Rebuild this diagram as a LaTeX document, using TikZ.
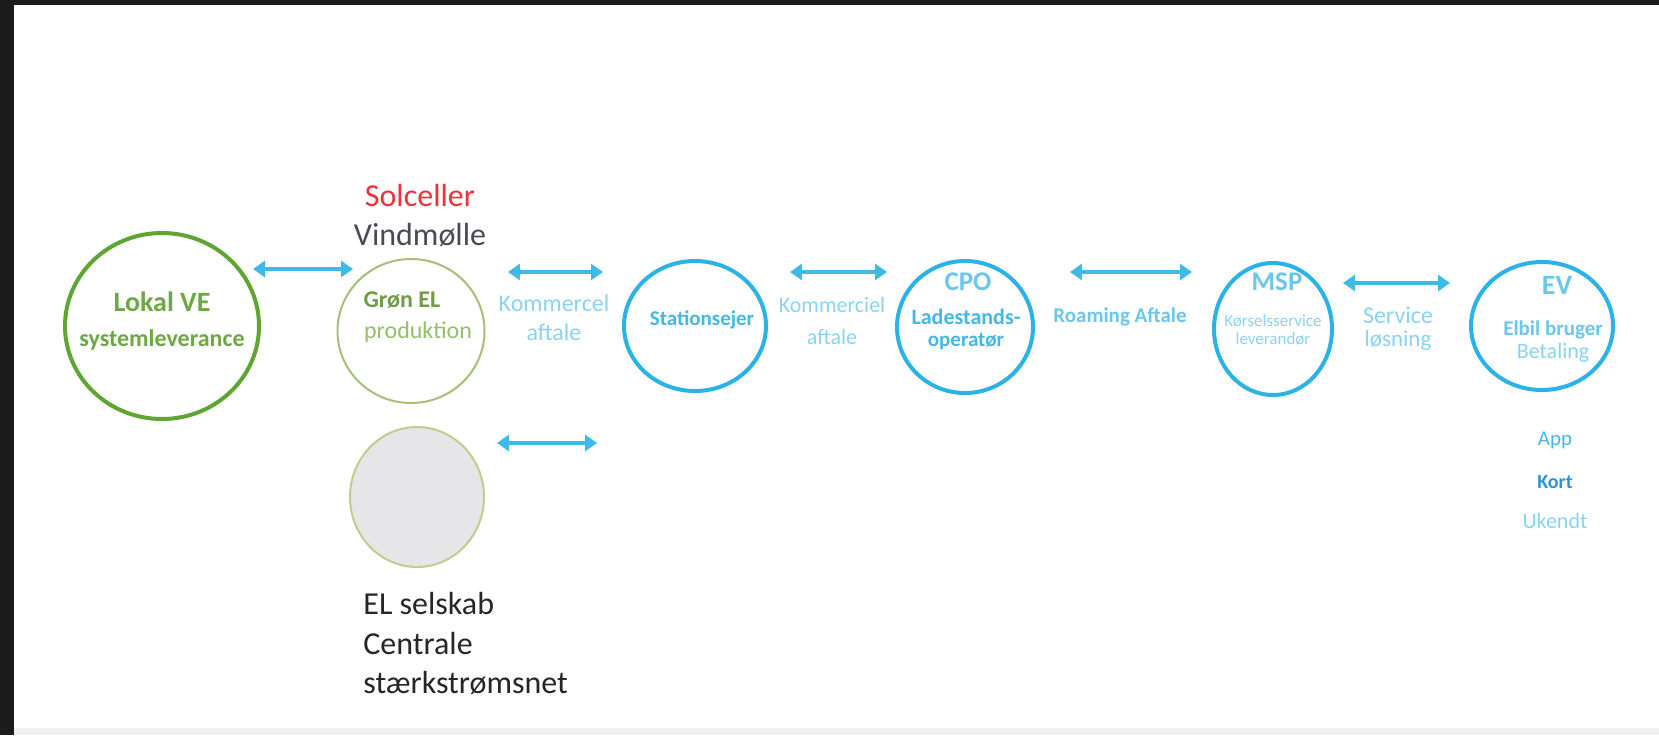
\documentclass[tikz,border=0pt]{standalone}
\usepackage{fontspec}
\setmainfont{Carlito}
\usetikzlibrary{arrows.meta,shapes.geometric}
\definecolor{framedark}{HTML}{1C1C1C}
\definecolor{bottomgray}{HTML}{EFEFEF}
\definecolor{vegreen}{HTML}{5FA532}
\definecolor{vetext}{HTML}{6EA845}
\definecolor{groenring}{HTML}{A8BF78}
\definecolor{groentext}{HTML}{6F9C45}
\definecolor{groenlight}{HTML}{93BF68}
\definecolor{elring}{HTML}{C2CC8E}
\definecolor{elfill}{HTML}{E6E6E8}
\definecolor{solred}{HTML}{F0303A}
\definecolor{vindgray}{HTML}{4A4A55}
\definecolor{darktext}{HTML}{262626}
\definecolor{ringblue}{HTML}{2BB3E8}
\definecolor{arrowblue}{HTML}{3DBAE6}
\definecolor{bluetext}{HTML}{45B8EA}
\definecolor{bluelight}{HTML}{8AD3F2}
\definecolor{bluemid}{HTML}{6CC6EE}
\definecolor{kortblue}{HTML}{2E94D6}
\newcommand{\fsz}[1]{\fontsize{#1pt}{#1pt}\selectfont}
\begin{document}
\begin{tikzpicture}[x=0.5pt,y=-0.5pt,
  ring/.style={ellipse, draw=ringblue, line width=2pt, inner sep=0pt},
  biarrow/.style={{Triangle[length=6pt,width=8pt]}-{Triangle[length=6pt,width=8pt]}, line width=2pt, draw=arrowblue},
  txt/.style={inner sep=0pt, anchor=center}]
\useasboundingbox (0,0) rectangle (1659,735);
\fill[white] (0,0) rectangle (1659,735);
\fill[framedark] (0,0) rectangle (1659,5);
\fill[framedark] (0,0) rectangle (14,735);
\fill[bottomgray] (14,728) rectangle (1659,735);

% circles
\node[ellipse, draw=vegreen, line width=2pt, inner sep=0pt, minimum width=97pt, minimum height=93pt] (ve) at (162,326) {};
\node[ellipse, draw=groenring, line width=1pt, inner sep=0pt, minimum width=73.5pt, minimum height=72pt] (groen) at (411,331) {};
\node[ellipse, draw=elring, fill=elfill, line width=1pt, inner sep=0pt, minimum width=67pt, minimum height=70pt] (el) at (417,497) {};
\node[ring, minimum width=71pt, minimum height=65pt] (stat) at (695,326) {};
\node[ring, minimum width=68pt, minimum height=66pt] (cpo) at (965,327) {};
\node[ring, minimum width=59pt, minimum height=66pt] (msp) at (1273,329) {};
\node[ring, minimum width=71pt, minimum height=64pt] (ev) at (1542,326) {};

% texts in circles
\node[txt, text=vetext, font=\bfseries\fsz{14}] (veA) at (162,302) {Lokal VE};
\node[txt, text=vetext, font=\bfseries\fsz{12}] (veB) at (162,340) {systemleverance};
\node[txt, text=groentext, font=\bfseries\fsz{12}] (grA) at (402,300) {Grøn EL};
\node[txt, text=groenlight, font=\fsz{12}] (grB) at (418,332) {produktion};
\node[txt, text=bluetext, font=\bfseries\fsz{10.5}] (stA) at (702,320) {Stationsejer};
\node[txt, text=bluemid, font=\bfseries\fsz{13.5}] (cpoA) at (968,282) {CPO};
\node[txt, text=bluetext, font=\bfseries\fsz{11}] (cpoB) at (966,317) {Ladestands-};
\node[txt, text=bluetext, font=\bfseries\fsz{10.5}] (cpoC) at (966,342) {operatør};
\node[txt, text=bluemid, font=\bfseries\fsz{13.5}] (mspA) at (1277,282) {MSP};
\node[txt, text=bluelight, font=\fsz{8.5}] (mspB) at (1273,321) {Kørselsservice};
\node[txt, text=bluelight, font=\fsz{8.5}] (mspC) at (1273,339) {leverandør};
\node[txt, text=bluemid, font=\bfseries\fsz{14}] (evA) at (1557,285) {EV};
\node[txt, text=bluemid, font=\bfseries\fsz{10.5}] (evB) at (1553,330) {Elbil bruger};
\node[txt, text=bluelight, font=\fsz{11}] (evC) at (1553,353) {Betaling};

% texts outside
\node[txt, text=solred, font=\fsz{16}] (sol) at (420,195) {Solceller};
\node[txt, text=vindgray, font=\fsz{16}] (vind) at (420,235) {Vindmølle};
\node[txt, text=darktext, font=\fsz{16}, anchor=west] (elA) at (363,603) {EL selskab};
\node[txt, text=darktext, font=\fsz{16}, anchor=west] (elB) at (363,643) {Centrale};
\node[txt, text=darktext, font=\fsz{16}, anchor=west] (elC) at (363,683) {stærkstrømsnet};

\node[txt, text=bluelight, font=\fsz{12}] (k1A) at (554,303) {Kommercel};
\node[txt, text=bluelight, font=\fsz{12}] (k1B) at (554,332) {aftale};
\node[txt, text=bluelight, font=\fsz{11}] (k2A) at (832,305) {Kommerciel};
\node[txt, text=bluelight, font=\fsz{11}] (k2B) at (832,337) {aftale};
\node[txt, text=bluemid, font=\bfseries\fsz{10.5}] (roam) at (1120,317) {Roaming Aftale};
\node[txt, text=bluelight, font=\fsz{12}] (svA) at (1398,315) {Service};
\node[txt, text=bluelight, font=\fsz{11.5}] (svB) at (1398,340) {løsning};

\node[txt, text=bluetext, font=\fsz{10.5}] (app) at (1555,440) {App};
\node[txt, text=kortblue, font=\bfseries\fsz{10}] (kort) at (1555,482) {Kort};
\node[txt, text=bluelight, font=\fsz{11}] (ukendt) at (1555,521) {Ukendt};

% arrow end points
\coordinate (a1l) at (253,269); \coordinate (a1r) at (353,269);
\coordinate (a2l) at (508,272); \coordinate (a2r) at (603,272);
\coordinate (a3l) at (497,443); \coordinate (a3r) at (597,443);
\coordinate (a4l) at (790,272); \coordinate (a4r) at (887,272);
\coordinate (a5l) at (1070,272); \coordinate (a5r) at (1192,272);
\coordinate (a6l) at (1343,283); \coordinate (a6r) at (1450,283);
\draw[biarrow] (a1l) -- (a1r);
\draw[biarrow] (a2l) -- (a2r);
\draw[biarrow] (a3l) -- (a3r);
\draw[biarrow] (a4l) -- (a4r);
\draw[biarrow] (a5l) -- (a5r);
\draw[biarrow] (a6l) -- (a6r);
\end{tikzpicture}
\end{document}
